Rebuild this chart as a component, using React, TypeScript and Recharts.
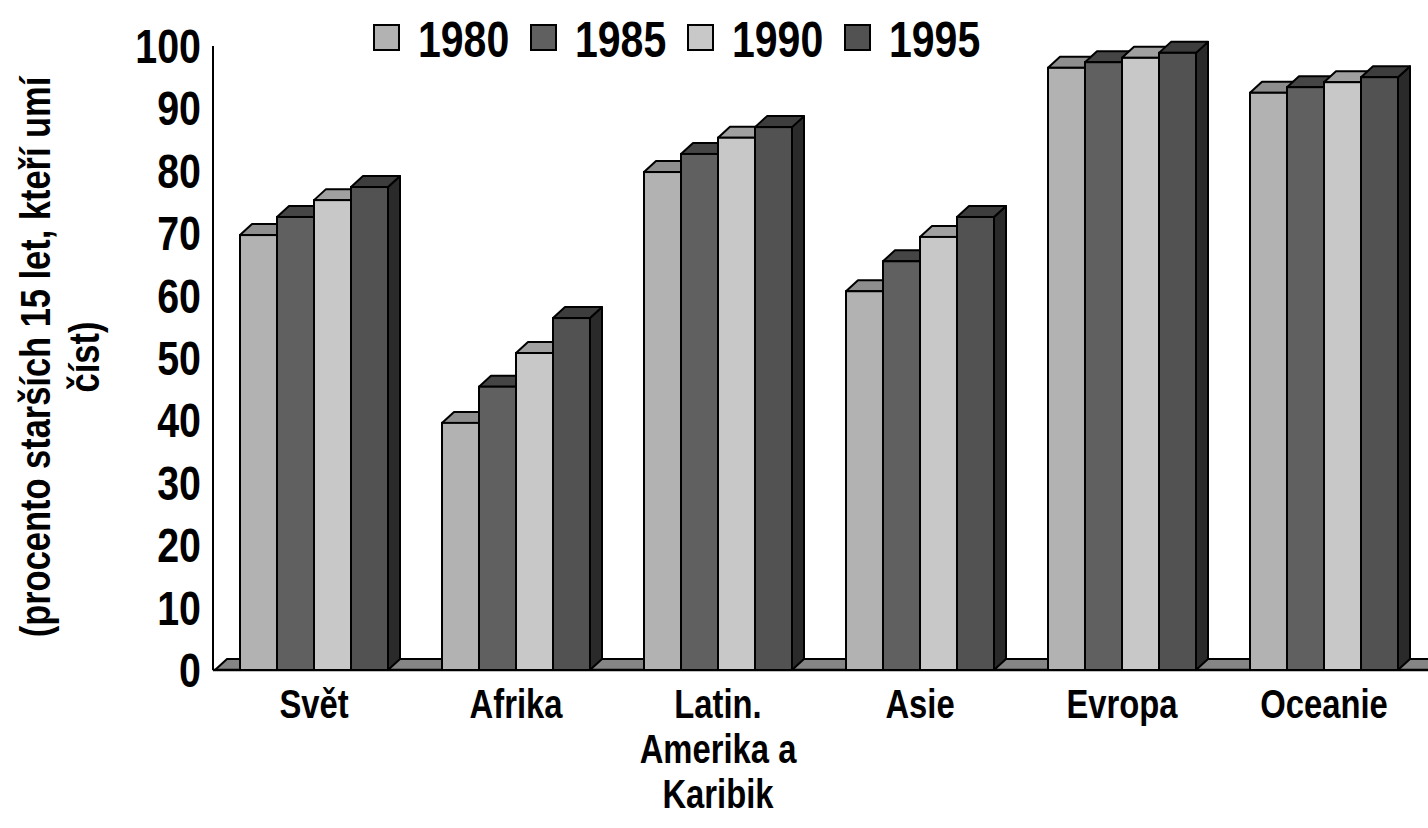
import { BarChart, Bar, XAxis, YAxis, ReferenceLine } from 'recharts';

const categories = ['Svět', 'Afrika', 'Latin.\nAmerika a\nKaribik', 'Asie', 'Evropa', 'Oceanie'];
const years = ['1980', '1985', '1990', '1995'];
const values1980 = [69.7, 39.6, 79.8, 60.7, 96.5, 92.5];
const values1985 = [72.6, 45.4, 82.7, 65.5, 97.4, 93.4];
const values1990 = [75.3, 50.8, 85.3, 69.4, 98.1, 94.2];
const values1995 = [77.4, 56.4, 87.0, 72.6, 98.9, 95.0];
const yTicks = [0, 10, 20, 30, 40, 50, 60, 70, 80, 90, 100];

const FONT = "'Liberation Sans', Arial, sans-serif";
const NARROW = 0.82; // squeeze Liberation Sans into an Arial Narrow look
const DX = 12;
const DY = 11;

// front / top / side shades for each year
const shades = [
  { front: '#b2b2b2', top: '#8e8e8e', side: '#5a5a5a' },
  { front: '#606060', top: '#454545', side: '#303030' },
  { front: '#c8c8c8', top: '#a0a0a0', side: '#646464' },
  { front: '#525252', top: '#3d3d3d', side: '#2a2a2a' },
];

const series = [values1980, values1985, values1990, values1995];

const data = categories.map((name, i) => {
  const row: Record<string, string | number> = { name };
  years.forEach((y, s) => {
    row[y] = series[s][i];
  });
  return row;
});

const margin = { top: 46, right: 3, bottom: 8, left: 0 };

const make3D = (c: { front: string; top: string; side: string }) => (props: any) => {
  const { x, y, width, height } = props;
  if (width == null || height == null) return <g />;
  const r = x + width;
  const b = y + height;
  return (
    <g>
      <polygon
        points={`${r},${y} ${r + DX},${y - DY} ${r + DX},${b - DY} ${r},${b}`}
        fill={c.side}
        stroke="#000"
        strokeWidth={2}
        strokeLinejoin="round"
      />
      <polygon
        points={`${x},${y} ${x + DX},${y - DY} ${r + DX},${y - DY} ${r},${y}`}
        fill={c.top}
        stroke="#000"
        strokeWidth={2}
        strokeLinejoin="round"
      />
      <rect x={x} y={y} width={width} height={height} fill={c.front} stroke="#000" strokeWidth={2} />
    </g>
  );
};

const Floor = (props: any) => {
  const { x1, y1, x2 } = props;
  return (
    <g>
      <polygon
        points={`${x1 + 2},${y1} ${x1 + 2 + DX},${y1 - DY} ${x2 + DX + 20},${y1 - DY} ${x2 + 20},${y1}`}
        fill="#858585"
        stroke="#000"
        strokeWidth={2}
      />
      <line x1={x1} y1={y1} x2={x2 + 20} y2={y1} stroke="#000" strokeWidth={2.5} />
    </g>
  );
};

const XTick = (props: any) => {
  const { x, y, payload } = props;
  const lines = String(payload.value).split('\n');
  return (
    <text
      transform={`translate(${x},${y}) scale(${NARROW},1)`}
      textAnchor="middle"
      fontFamily={FONT}
      fontWeight="bold"
      fontSize={40}
      fill="#000"
    >
      {lines.map((l, i) => (
        <tspan key={i} x={0} dy={i === 0 ? 40 : 45}>
          {l}
        </tspan>
      ))}
    </text>
  );
};

const YTick = (props: any) => {
  const { x, y, payload } = props;
  return (
    <text
      transform={`translate(${x},${y + 17}) scale(${NARROW},1)`}
      textAnchor="end"
      fontFamily={FONT}
      fontWeight="bold"
      fontSize={48}
      fill="#000"
    >
      {payload.value}
    </text>
  );
};

const YLabel = () => (
  <text
    transform={`translate(0,357) rotate(-90) scale(${NARROW},1)`}
    textAnchor="middle"
    fontFamily={FONT}
    fontWeight="bold"
    fontSize={42}
    fill="#000"
  >
    <tspan x={0} y={50}>(procento starších 15 let, kteří umí</tspan>
    <tspan x={0} y={99}>číst)</tspan>
  </text>
);

const Legend3D = () => (
  <div
    style={{
      position: 'absolute',
      left: 373,
      top: 15,
      display: 'flex',
      alignItems: 'center',
      fontFamily: FONT,
      fontWeight: 'bold',
      fontSize: 50,
      lineHeight: '50px',
    }}
  >
    {years.map((y, i) => (
      <div key={y} style={{ display: 'flex', alignItems: 'center', marginRight: 20 }}>
        <span
          style={{
            display: 'inline-block',
            width: 23,
            height: 23,
            background: shades[i].front,
            border: '2px solid #000',
            marginRight: 18,
            marginTop: -5,
          }}
        />
        <span style={{ display: 'inline-block', width: 92, whiteSpace: 'nowrap' }}>
          <span style={{ display: 'inline-block', transform: `scaleX(${NARROW})`, transformOrigin: 'left center' }}>
            {y}
          </span>
        </span>
      </div>
    ))}
  </div>
);

export default function App() {
  return (
    <div style={{ position: 'absolute', left: 0, top: 0, width: 1428, height: 828, background: '#fff' }}>
      {/* floor layer, same layout as the main chart, sits behind the bars */}
      <div style={{ position: 'absolute', left: 0, top: 0 }}>
        <BarChart width={1428} height={828} data={data} margin={margin} barCategoryGap={27} barGap={0}>
          <XAxis dataKey="name" axisLine={false} tickLine={false} tick={false} height={150} />
          <YAxis domain={[0, 100]} ticks={yTicks} width={213} axisLine={false} tickLine={false} tick={false} />
          <Bar dataKey={years[0]} isAnimationActive={false} fill="none" shape={() => <g />} />
          <ReferenceLine y={0} ifOverflow="visible" shape={(p: any) => <Floor {...p} />} />
        </BarChart>
      </div>
      <div style={{ position: 'absolute', left: 0, top: 0 }}>
        <BarChart width={1428} height={828} data={data} margin={margin} barCategoryGap={27} barGap={0}>
          <XAxis dataKey="name" axisLine={false} tickLine={false} tick={<XTick />} height={150} interval={0} />
          <YAxis
            domain={[0, 100]}
            ticks={yTicks}
            width={213}
            axisLine={{ stroke: '#000', strokeWidth: 2 }}
            tickLine={false}
            tick={<YTick />}
            tickMargin={6}
            interval={0}
            label={{ content: () => <YLabel /> }}
          />
          {years.map((y, i) => (
            <Bar key={y} dataKey={y} isAnimationActive={false} shape={make3D(shades[i])} />
          ))}
        </BarChart>
      </div>
      <Legend3D />
    </div>
  );
}
